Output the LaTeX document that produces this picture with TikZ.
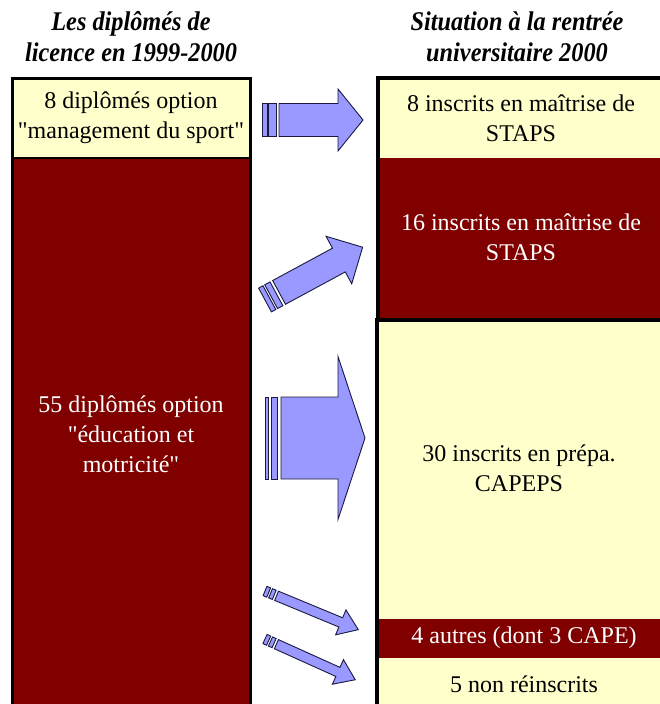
\documentclass[tikz,border=0pt]{standalone}
\usepackage{fontspec}
\setmainfont{Liberation Serif}
\newfontfamily\headfont[FakeStretch=0.9]{Liberation Serif}
\definecolor{paleyellow}{HTML}{FFFFCC}
\definecolor{maroon}{HTML}{800000}
\definecolor{arrowblue}{HTML}{9999FF}
\definecolor{arrowline}{HTML}{1A1A40}

% striped block arrow in a local frame: tail centre at the origin, pointing along +x
% #1 scope options, #2 length, #3 shaft half width, #4 head half width, #5 head length,
% #6 end of first stripe, #7 start of second stripe, #8 end of second stripe, #9 start of shaft
\newcommand\stripearrow[9]{%
  \begin{scope}[#1]
    \draw[arrowshape] (0,-#3) rectangle (#6,#3);
    \draw[arrowshape] (#7,-#3) rectangle (#8,#3);
    \draw[arrowshape] (#9,-#3) -- ({#2-#5},-#3) -- ({#2-#5},-#4) -- (#2,0)
      -- ({#2-#5},#4) -- ({#2-#5},#3) -- (#9,#3) -- cycle;
  \end{scope}}

\begin{document}
\begin{tikzpicture}[x=1pt,y=-1pt,
  arrowshape/.style={fill=arrowblue,draw=arrowline,line width=0.9pt,line join=miter},
  txt/.style={align=center,inner sep=0pt,font=\fontsize{24}{30}\selectfont},
  darktxt/.style={txt,text=black},
  lighttxt/.style={txt,text=white},
  head/.style={align=center,inner sep=0pt,font=\headfont\bfseries\itshape\fontsize{27}{31}\selectfont},
  frame/.style={draw=black}]
\path[use as bounding box] (0,0) rectangle (660,704);
\clip (0,0) rectangle (660,704);
\fill[white] (0,0) rectangle (660,704);

% column headings
\node[head] (hl) at (131,37) {Les diplômés de\\licence en 1999-2000};
\node[head] (hr) at (517,37) {Situation à la rentrée\\universitaire 2000};

% left column: graduates
\fill[paleyellow] (12,78) rectangle (250,158);
\fill[maroon] (12,158) rectangle (250,720);
\draw[black,line width=1.6pt] (12,158) -- (252,158);
\draw[frame,line width=3pt] (12,720) -- (12,78) -- (250,78) -- (250,720);

% right column: situation after graduation
\fill[paleyellow] (378,78) rectangle (670,158);
\fill[maroon] (378,158) rectangle (670,320);
\draw[frame,line width=4pt] (378,320) -- (378,78) -- (670,78);
\fill[paleyellow] (377,320) rectangle (670,720);
\fill[maroon] (377,619) rectangle (670,658);
\draw[frame,line width=4pt] (377,720) -- (377,320) -- (670,320);

% texts
\node[darktxt] (lt) at (131,118) {8 diplômés option\\\textquotedbl management du sport\textquotedbl};
\node[lighttxt] (lb) at (131,434) {55 diplômés option\\\textquotedbl éducation et\\motricité\textquotedbl};
\node[darktxt] (r1) at (521,118) {8 inscrits en maîtrise de\\STAPS};
\node[lighttxt] (r2) at (521,237) {16 inscrits en maîtrise de\\STAPS};
\node[darktxt] (r3) at (519,468) {30 inscrits en prépa.\\CAPEPS};
\node[lighttxt] (r4) at (524,638) {4 autres (dont 3 CAPE)};
\node[darktxt] (r5) at (524,684) {5 non réinscrits};

% arrows
\stripearrow{shift={(262,120)}}{101}{16.5}{31}{25}{5}{6.5}{14}{17}
\stripearrow{shift={(265,300)},rotate=28.4}{111}{13.5}{27}{27}{5}{7}{13}{16}
\stripearrow{shift={(265,438)}}{100}{41}{81.5}{27}{3.5}{6}{12}{16}
\stripearrow{shift={(265,591)},rotate=-22.5}{101}{5}{13.5}{19}{4}{6}{10}{12.5}
\stripearrow{shift={(265,639)},rotate=-24.3}{99}{5}{13.5}{19}{4}{6}{10}{12.5}
\end{tikzpicture}
\end{document}
